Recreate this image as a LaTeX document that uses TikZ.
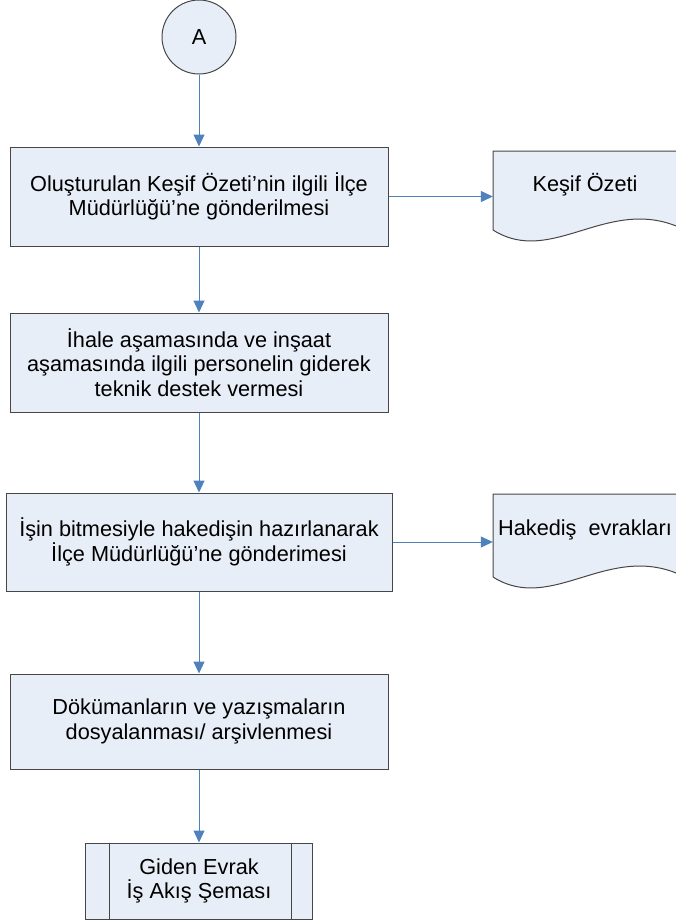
\documentclass[tikz,border=0pt]{standalone}
\usepackage{fontspec}
\setmainfont{Liberation Sans}
\usepackage{xcolor}
\usetikzlibrary{arrows.meta}
\definecolor{boxfill}{RGB}{232,238,247}
\definecolor{boxline}{RGB}{70,70,70}
\definecolor{flow}{RGB}{79,129,189}

\begin{document}
\begin{tikzpicture}[x=1pt,y=-1pt,
    font=\fontsize{21.7}{24.5}\selectfont,
    procbox/.style={draw=boxline,fill=boxfill,line width=1pt,align=center,inner sep=0pt,minimum width=378pt},
    doctext/.style={align=center,inner sep=0pt,minimum width=184pt},
    flowarrow/.style={draw=flow,line width=1pt,-{Triangle[width=11pt,length=12pt]}}]
    \useasboundingbox (0,0) rectangle (675,924);

    \node[circle,draw=boxline,fill=boxfill,line width=1pt,minimum size=74pt] (A) at (199,37) {A};

    \node[procbox,minimum height=99pt] (gonder) at (199,196.5) {Oluşturulan Keşif Özeti’nin ilgili İlçe\\Müdürlüğü’ne gönderilmesi};
    \node[procbox,minimum height=99pt] (destek) at (199,362.5) {İhale aşamasında ve inşaat\\aşamasında ilgili personelin giderek\\teknik destek vermesi};
    \node[procbox,minimum height=98pt,minimum width=386pt] (hakedis) at (199,542) {İşin bitmesiyle hakedişin hazırlanarak\\İlçe Müdürlüğü’ne gönderimesi};
    \node[procbox,minimum height=95pt] (arsiv) at (199,721.5) {Dökümanların ve yazışmaların\\dosyalanması/ arşivlenmesi};
    \node[procbox,minimum height=76pt,minimum width=227pt] (giden) at (199,881) {Giden Evrak\\İş Akış Şeması};
    \draw[boxline,line width=1pt] ([xshift=24pt]giden.north west) -- ([xshift=24pt]giden.south west);
    \draw[boxline,line width=1pt] ([xshift=-22pt]giden.north east) -- ([xshift=-22pt]giden.south east);

    \draw[draw=boxline,fill=boxfill,line width=1pt] (493,151) -- (685,151) -- (685,230) .. controls (610,192) and (553,268) .. (493,230) -- cycle;
    \node[doctext] (kesif) at (585,185) {Keşif Özeti};
    \draw[draw=boxline,fill=boxfill,line width=1pt] (493,494) -- (685,494) -- (685,577) .. controls (610,539) and (553,615) .. (493,577) -- cycle;
    \node[doctext] (evrak) at (585,530) {Hakediş~~evrakları};

    \draw[flowarrow] (A) -- (gonder);
    \draw[flowarrow] (gonder) -- (destek);
    \draw[flowarrow] (destek) -- (hakedis);
    \draw[flowarrow] (hakedis) -- (arsiv);
    \draw[flowarrow] (arsiv) -- (giden);
    \draw[flowarrow] (gonder.east) -- (gonder.east -| kesif.west);
    \draw[flowarrow] (hakedis.east) -- (hakedis.east -| evrak.west);
\end{tikzpicture}
\end{document}
